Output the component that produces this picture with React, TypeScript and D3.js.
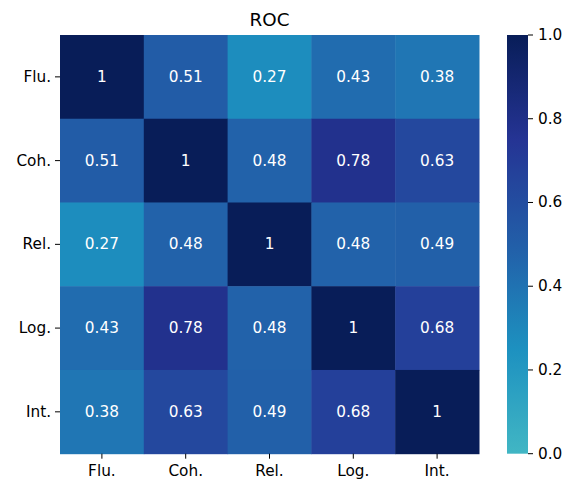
import React from "react";
import * as d3 from "d3";

const labels = ["Flu.", "Coh.", "Rel.", "Log.", "Int."];
const matrix: number[][] = [
  [1, 0.51, 0.27, 0.43, 0.38],
  [0.51, 1, 0.48, 0.78, 0.63],
  [0.27, 0.48, 1, 0.48, 0.49],
  [0.43, 0.78, 0.48, 1, 0.68],
  [0.38, 0.63, 0.49, 0.68, 1],
];
const cbTicks = [0, 0.2, 0.4, 0.6, 0.8, 1.0];
const title = "ROC";

const ylgnbu = ["#ffffd9", "#edf8b1", "#c7e9b4", "#7fcdbb", "#41b6c4", "#1d91c0", "#225ea8", "#253494", "#081d58"];
const baseScale = d3
  .scaleLinear<string>()
  .domain(d3.range(ylgnbu.length).map((i) => i / (ylgnbu.length - 1)))
  .range(ylgnbu)
  .interpolate(d3.interpolateRgb);
const color = (v: number) => baseScale(0.5 + 0.5 * v);

const W = 568, H = 486;
const left = 60, top = 35, right = 479, bottom = 453.7;
const cbX = 507, cbW = 21;
const font = "DejaVu Sans, sans-serif";

export default function App() {
  const x = d3.scaleBand<string>().domain(labels).range([left, right]);
  const y = d3.scaleBand<string>().domain(labels).range([top, bottom]);
  const cy = d3.scaleLinear().domain([0, 1]).range([bottom, top]);
  const stops = d3.range(0, 1.0001, 0.05);
  return (
    <svg width={W} height={H} style={{ position: "absolute", left: 0, top: 0 }} fontFamily={font}>
      <defs>
        <linearGradient id="cb" x1="0" y1="1" x2="0" y2="0">
          {stops.map((s) => (
            <stop key={s} offset={s} stopColor={color(s)} />
          ))}
        </linearGradient>
      </defs>
      <rect width={W} height={H} fill="#fff" />
      <text x={(left + right) / 2} y={26} textAnchor="middle" fontSize={18.3} fill="#000">
        {title}
      </text>
      {matrix.map((row, i) =>
        row.map((v, j) => (
          <g key={`${i}-${j}`}>
            <rect
              x={x(labels[j])!}
              y={y(labels[i])!}
              width={x.bandwidth() + 0.5}
              height={y.bandwidth() + 0.5}
              fill={color(v)}
            />
            <text
              x={x(labels[j])! + x.bandwidth() / 2}
              y={y(labels[i])! + y.bandwidth() / 2}
              textAnchor="middle"
              dominantBaseline="central"
              fontSize={15.3}
              fill="#fff"
            >
              {String(v)}
            </text>
          </g>
        ))
      )}
      {labels.map((l) => (
        <g key={"x" + l}>
          <line
            x1={x(l)! + x.bandwidth() / 2}
            x2={x(l)! + x.bandwidth() / 2}
            y1={bottom}
            y2={bottom + 5}
            stroke="#000"
            strokeWidth={1}
          />
          <text x={x(l)! + x.bandwidth() / 2} y={476} textAnchor="middle" fontSize={15.3} fill="#000">
            {l}
          </text>
          <line
            x1={left - 5}
            x2={left}
            y1={y(l)! + y.bandwidth() / 2}
            y2={y(l)! + y.bandwidth() / 2}
            stroke="#000"
            strokeWidth={1}
          />
          <text
            x={left - 9}
            y={y(l)! + y.bandwidth() / 2}
            textAnchor="end"
            dominantBaseline="central"
            fontSize={15.3}
            fill="#000"
          >
            {l}
          </text>
        </g>
      ))}
      <rect x={cbX} y={top} width={cbW} height={bottom - top} fill="url(#cb)" />
      {cbTicks.map((t) => (
        <g key={"c" + t}>
          <line x1={cbX + cbW} x2={cbX + cbW + 5} y1={cy(t)} y2={cy(t)} stroke="#000" strokeWidth={1} />
          <text x={cbX + cbW + 10} y={cy(t)} dominantBaseline="central" fontSize={15.3} fill="#000">
            {t.toFixed(1)}
          </text>
        </g>
      ))}
    </svg>
  );
}
